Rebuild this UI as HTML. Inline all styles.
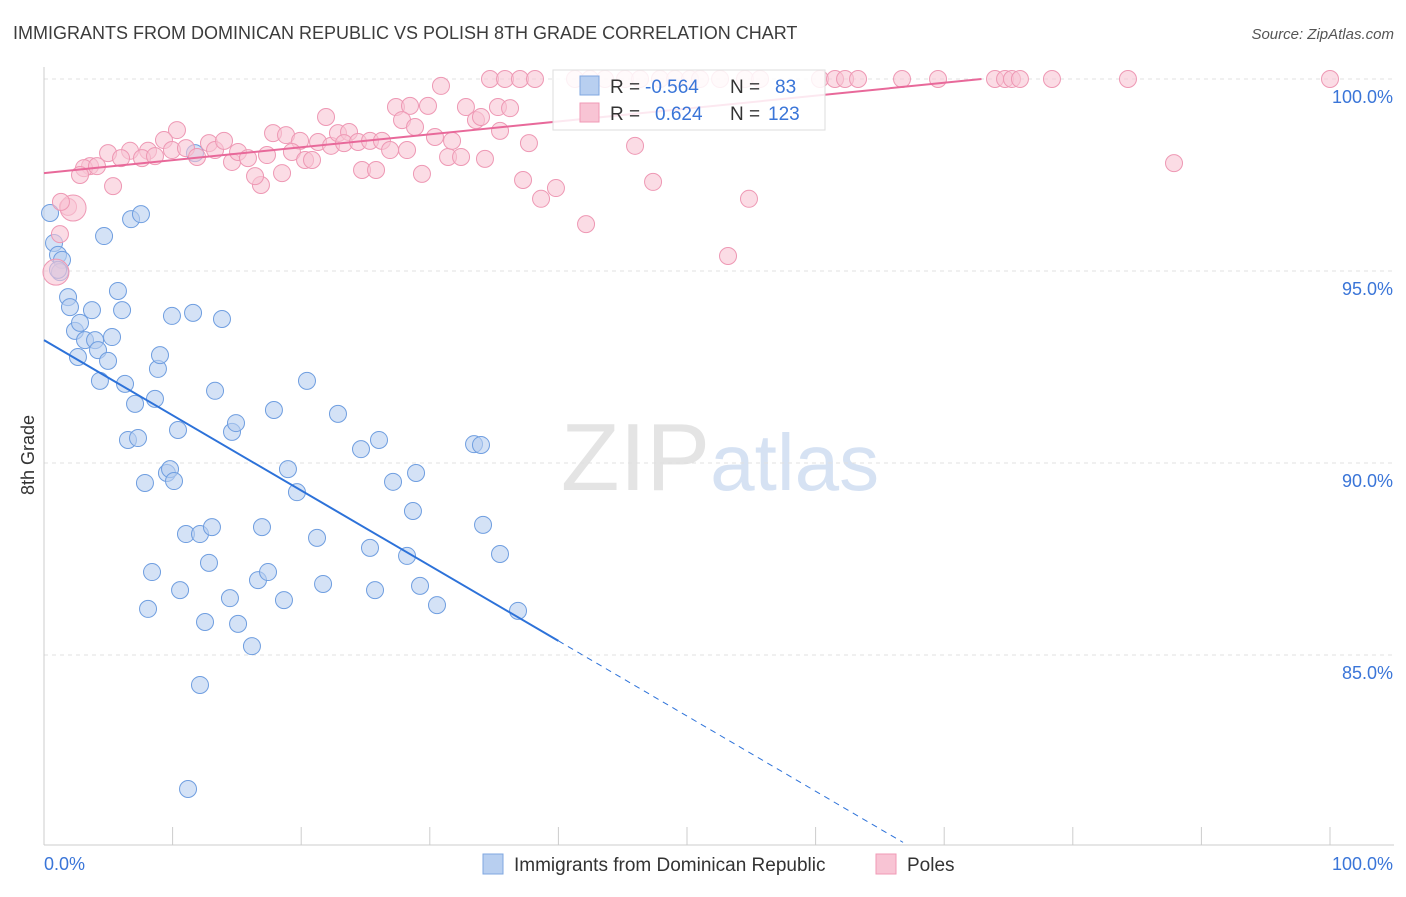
<!DOCTYPE html>
<html><head><meta charset="utf-8">
<style>
body{margin:0;background:#fff;font-family:"Liberation Sans",sans-serif;overflow:hidden;}
svg text{font-family:"Liberation Sans",sans-serif;}
</style></head>
<body>
<svg id="chart" width="1406" height="892" xmlns="http://www.w3.org/2000/svg">
<text x="13" y="39" font-size="18" fill="#3c3c3c">IMMIGRANTS FROM DOMINICAN REPUBLIC VS POLISH 8TH GRADE CORRELATION CHART</text>
<text x="1394" y="39" font-size="15" fill="#555" font-style="italic" text-anchor="end">Source: ZipAtlas.com</text>
<text x="34" y="455" font-size="18" fill="#333" transform="rotate(-90 34 455)" text-anchor="middle">8th Grade</text>
<text x="720" y="490" font-size="96" fill="#e4e4e4" text-anchor="middle" font-family="Liberation Serif">ZIP<tspan fill="#d6e2f3" font-family="Liberation Sans" font-size="80">atlas</tspan></text>
<g id="grid"></g><g id="pts"></g><g id="trend"></g>
<g>
<rect x="553" y="70" width="272" height="60" fill="#fff" fill-opacity="0.85" stroke="#ddd"/>
<rect x="580" y="76" width="19" height="19" fill="#b8cff0" stroke="#7fa7e0"/>
<text x="610" y="93" font-size="19" fill="#333">R = </text><text x="645" y="93" font-size="19" fill="#3a75d8">-0.564</text>
<text x="730" y="93" font-size="19" fill="#333">N =</text><text x="775" y="93" font-size="19" fill="#3a75d8">83</text>
<rect x="580" y="103" width="19" height="19" fill="#f8c4d4" stroke="#f09ab6"/>
<text x="610" y="120" font-size="19" fill="#333">R = </text><text x="655" y="120" font-size="19" fill="#3a75d8">0.624</text>
<text x="730" y="120" font-size="19" fill="#333">N =</text><text x="768" y="120" font-size="19" fill="#3a75d8">123</text>
</g>
<g>
<rect x="483" y="854" width="20" height="20" fill="#b8cff0" stroke="#7fa7e0"/>
<text x="514" y="871" font-size="19" fill="#333">Immigrants from Dominican Republic</text>
<rect x="876" y="854" width="20" height="20" fill="#f8c4d4" stroke="#f09ab6"/>
<text x="907" y="871" font-size="19" fill="#333">Poles</text>
</g>
</svg>
<script>
const yTicks=[100,95,90,85];
const xTickLabels=["0.0%","100.0%"];
const blueX=[0.47,0.78,1.09,1.40,1.24,1.87,2.02,2.41,2.80,2.64,3.19,3.73,3.97,4.20,4.35,4.67,4.98,5.29,5.75,6.07,6.30,6.53,6.77,7.08,7.31,7.54,7.85,8.09,8.40,8.63,8.86,9.02,9.56,9.80,9.95,10.11,10.42,10.58,11.04,11.20,11.59,11.74,12.13,12.13,12.52,12.83,13.06,13.30,13.84,14.46,14.62,14.93,15.09,16.17,16.64,16.95,17.42,17.88,18.66,18.97,19.67,20.45,21.23,21.70,22.86,24.65,25.35,25.74,26.05,27.14,28.23,28.69,28.93,29.24,30.56,33.44,33.98,34.14,35.46,36.86,1.09];
const blueY=[96.51,95.73,95.42,95.29,94.97,94.32,94.06,93.44,93.65,92.76,93.20,93.98,93.20,92.94,92.14,95.91,92.66,93.28,94.48,93.98,92.06,90.60,96.35,91.54,90.65,96.48,89.48,86.20,87.16,91.67,92.45,92.81,89.74,89.84,93.83,89.53,90.86,86.69,88.15,81.51,93.91,98.07,88.15,84.22,85.86,87.40,88.33,91.88,93.75,86.48,90.81,91.04,85.81,85.23,86.95,88.33,87.16,91.38,86.43,89.84,89.24,92.14,88.05,86.85,91.28,90.36,87.79,86.69,90.60,89.51,87.58,88.75,89.74,86.80,86.30,90.49,90.47,88.39,87.63,86.15,95.03];
const pinkX=[34.68,35.85,37.01,38.18,41.29,42.46,43.62,45.18,46.35,47.90,49.07,50.23,51.01,52.57,54.51,55.68,60.34,61.51,62.29,63.30,66.72,69.52,73.95,74.73,75.27,75.89,78.38,84.29,100,30.87,27.37,28.46,29.86,32.81,35.30,36.24,21.93,33.59,33.98,27.84,28.85,10.34,9.33,8.09,6.69,4.98,5.99,3.58,3.11,4.12,2.80,5.37,7.62,8.63,9.95,11.04,11.90,12.83,13.30,14.00,14.62,15.09,15.86,16.87,16.41,17.34,17.81,18.82,18.51,19.91,19.28,20.30,20.84,21.31,22.32,22.86,23.72,23.33,24.42,25.35,26.28,26.91,24.73,25.82,28.23,29.39,30.40,31.42,31.73,32.43,34.29,35.46,37.71,37.25,38.65,39.81,42.15,45.96,47.36,54.82,53.19,87.87,1.24,0.93,1.87,2.26,1.32];
const pinkY=[100,100,100,100,100,100,100,100,100,100,100,100,100,100,100,100,100,100,100,100,100,100,100,100,100,100,100,100,100,99.82,99.27,99.30,99.30,99.27,99.27,99.24,99.01,98.93,99.01,98.93,98.75,98.67,98.41,98.13,98.13,98.07,97.94,97.73,97.68,97.73,97.50,97.21,97.94,97.99,98.15,98.20,97.97,98.33,98.15,98.39,97.84,98.10,97.94,97.24,97.47,98.02,98.59,98.54,97.55,98.39,98.10,97.89,97.89,98.36,98.26,98.59,98.62,98.33,98.36,98.39,98.39,98.15,97.63,97.63,98.15,97.53,98.49,97.97,98.39,97.97,97.92,98.65,98.33,97.37,96.88,97.16,96.22,98.26,97.32,96.88,95.39,97.81,95.96,94.97,96.67,96.64,96.80];
const pinkBig=[103,105];
const NS="http://www.w3.org/2000/svg";
const X0=44,X1=1330,Y100=79,PPY=38.4,YB=845;
function sx(v){return X0+(X1-X0)*v/100;}
function sy(v){return Y100+(100-v)*PPY;}
function mk(t,a,p){const e=document.createElementNS(NS,t);for(const k in a)e.setAttribute(k,a[k]);p.appendChild(e);return e;}
const grid=document.getElementById('grid');
yTicks.forEach(t=>{
 const l=mk('line',{x1:X0,x2:1394,y1:sy(t),y2:sy(t),stroke:'#e0e0e0','stroke-dasharray':'4,4'},grid);
 
 
 const tx=mk('text',{x:1393,y:sy(t)+24,'font-size':18,fill:'#3a75d8','text-anchor':'end'},grid);
 tx.textContent=t.toFixed(1)+'%';
 
 
});
const ax=mk('line',{x1:X0,x2:X0,y1:67,y2:YB,stroke:'#ccc'},grid);


const bx=mk('line',{x1:X0,x2:1394,y1:YB,y2:YB,stroke:'#ccc'},grid);


for(let i=0;i<=10;i++){
 const t=mk('line',{x1:sx(i*10),x2:sx(i*10),y1:827,y2:YB,stroke:'#ccc'},grid);
 
 
}
[[0,'start',X0],[1,'end',1393]].forEach(([i,a,x])=>{
 const t=mk('text',{x:x,y:870,'font-size':18,fill:'#3a75d8','text-anchor':a},grid);
 t.textContent=xTickLabels[i];
 
 
});
const pts=document.getElementById('pts');
blueX.forEach((v,i)=>{
 const c=mk('circle',{cx:sx(v),cy:sy(blueY[i]),r:8.5,fill:'#b8cff0','fill-opacity':0.6,stroke:'#6f9ee0','stroke-width':1},pts);
 
 
});
pinkX.forEach((v,i)=>{
 const r=pinkBig.includes(i)?13:8.5;
 const c=mk('circle',{cx:sx(v),cy:sy(pinkY[i]),r:r,fill:'#f8c4d4','fill-opacity':0.6,stroke:'#ee98b4','stroke-width':1},pts);
 
 
});
const tr=document.getElementById('trend');
const b0=93.2,b1=-0.1958;
const l1=mk('line',{x1:sx(0),y1:sy(b0),x2:sx(40),y2:sy(b0+b1*40),stroke:'#2d72d9','stroke-width':2},tr);


const l2=mk('line',{x1:sx(40),y1:sy(b0+b1*40),x2:sx(66.8),y2:sy(b0+b1*66.8),stroke:'#2d72d9','stroke-width':1,'stroke-dasharray':'6,5'},tr);


const p0=97.55,p1=0.0336;
const l3=mk('line',{x1:sx(0),y1:sy(p0),x2:sx(72.9),y2:sy(Math.min(100,p0+p1*72.9)),stroke:'#e8699a','stroke-width':2},tr);


</script>
</body></html>
